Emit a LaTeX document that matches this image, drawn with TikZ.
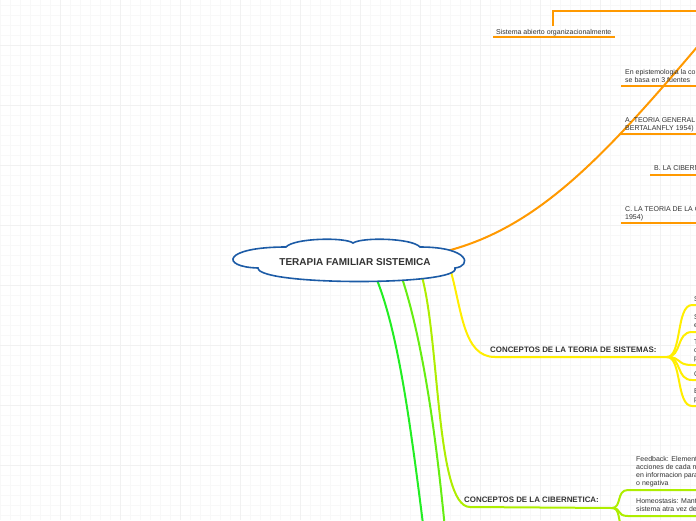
\documentclass[tikz,border=0pt]{standalone}
\usepackage{fontspec}
\setmainfont{Liberation Sans}
\definecolor{orng}{HTML}{FF9900}
\definecolor{yell}{HTML}{FFEE00}
\definecolor{limeg}{HTML}{AEEE00}
\definecolor{midg}{HTML}{66EE11}
\definecolor{brightg}{HTML}{22EE22}
\definecolor{cloudblue}{HTML}{1C5BA6}
\definecolor{txt}{HTML}{333333}
\definecolor{gridmin}{HTML}{F8F8F8}
\definecolor{gridmaj}{HTML}{F1F1F1}
\tikzset{
  conn/.style={line width=2pt, line cap=round},
  uline/.style={line width=2.2pt},
  small/.style={inner sep=0pt, anchor=north west, align=left, text=txt,
     font=\fontsize{7pt}{8pt}\selectfont},
  head/.style={inner sep=0pt, anchor=base west, text=txt,
     font=\fontsize{7.9pt}{9pt}\selectfont\bfseries},
}
\begin{document}
\begin{tikzpicture}[x=1pt,y=-1pt]
\useasboundingbox (0,0) rectangle (696,520);
\clip (0,0) rectangle (696,520);
\fill[white] (0,0) rectangle (696,520);
% grid
\foreach \x in {0,10,...,690} \draw[gridmin, line width=0.5pt] (\x,0) -- (\x,520);
\foreach \y in {5,15,...,515} \draw[gridmin, line width=0.5pt] (0,\y) -- (696,\y);
\foreach \x in {60,120,...,690} \draw[gridmaj, line width=0.5pt] (\x,0) -- (\x,520);
\foreach \y in {45,105,...,515} \draw[gridmaj, line width=0.5pt] (0,\y) -- (696,\y);

% coordinates
\coordinate (oS) at (434,254);
\coordinate (oE) at (720,20);
\coordinate (yS) at (450,268);
\coordinate (J1) at (667,357);
\coordinate (lS) at (420,270);
\coordinate (J2) at (612,508);
\coordinate (gbS) at (400,272);
\coordinate (gbE) at (446,540);
\coordinate (gaS) at (375,275);
\coordinate (gaE) at (425,540);

% orange branch
\draw[conn, orng] (oS) .. controls (540,232) and (610,150) .. (oE);
\draw[uline, orng] (553,26) -- (553,11) -- (700,11);
\draw[uline, orng] (493,37) -- (615,37);
\draw[uline, orng] (621,86) -- (700,86);
\draw[uline, orng] (621,134) -- (700,134);
\draw[uline, orng] (650,175) -- (700,175);
\draw[uline, orng] (621,223) -- (700,223);

% green branches
\draw[conn, brightg] (gaS) .. controls (398,330) and (410,420) .. (gaE);
\draw[conn, midg] (gbS) .. controls (420,330) and (435,420) .. (gbE);

% lime branch
\draw[conn, limeg] (lS) .. controls (440,330) and (435,507) .. (470,507) -- (J2);
\draw[conn, limeg] (J2) .. controls (622,508) and (616,490) .. (628,490) -- (700,490);
\draw[conn, limeg] (J2) .. controls (622,508) and (616,516) .. (628,516) -- (700,516);
\draw[conn, limeg] (J2) .. controls (620,508) and (618,520) .. (622,530);

% yellow branch
\draw[conn, yell] (yS) .. controls (462,310) and (463,357) .. (495,357) -- (J1);
\foreach \yy in {305,332,365,380,406}
  \draw[conn, yell] (J1) .. controls (682,357) and (676,\yy) .. (692,\yy) -- (700,\yy);

% cloud
\draw[cloudblue, line width=1.6pt, fill=white]
  (258,268) .. controls (220,267) and (222,247) .. (286,247)
  .. controls (294,238) and (345,237) .. (353,243)
  .. controls (362,237) and (412,238) .. (420,247)
  .. controls (470,247) and (472,266) .. (455,268)
  .. controls (462,286) and (258,286) .. (258,268) -- cycle;
\node[inner sep=0pt, text=txt, font=\fontsize{10pt}{12pt}\selectfont\bfseries] (root) at (355,262) {TERAPIA FAMILIAR SISTEMICA};

% texts orange
\node[small] (t1) at (496,29) {Sistema abierto organizacionalmente};
\node[small] (t2) at (625,69) {En epistemologia la co\\se basa en 3 fuentes};
\node[small] (t3) at (625,117) {A. TEORIA GENERAL\\BERTALANFLY 1954)};
\node[small] (t4) at (654,165) {B. LA CIBERN};
\node[small] (t5) at (625,206) {C. LA TEORIA DE LA C\\1954)};

% yellow texts
\node[head] (h1) at (490,352.5) {CONCEPTOS DE LA TEORIA DE SISTEMAS:};
\node[small] (y1) at (694,296) {S};
\node[small] (y2) at (694,314) {S\\e};
\node[small] (y3) at (694,339) {T\\c\\p};
\node[small] (y4) at (694,371) {C};
\node[small] (y5) at (694,388) {E\\p};

% lime texts
\node[head] (h2) at (464,502.5) {CONCEPTOS DE LA CIBERNETICA:};
\node[small] (l1) at (636,456) {Feedback: Element\\acciones de cada n\\en informacion para\\o negativa};
\node[small] (l2) at (636,498) {Homeostasis: Mant\\sistema atra vez de};
\end{tikzpicture}
\end{document}
